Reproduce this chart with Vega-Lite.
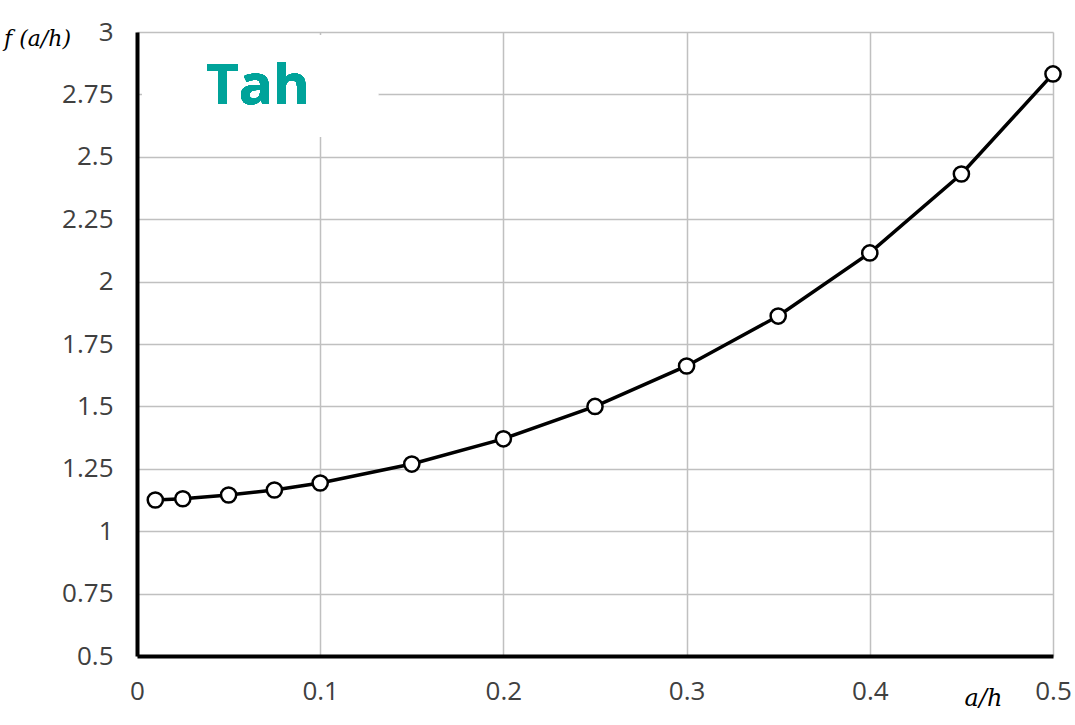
{
  "$schema": "https://vega.github.io/schema/vega-lite/v6.json",
  "autosize": "none",
  "width": 916,
  "height": 624,
  "padding": {"left": 137, "top": 32, "right": 22, "bottom": 69},
  "background": "white",
  "config": {
    "view": {"stroke": null},
    "axis": {
      "labelFont": "Open Sans",
      "labelFontSize": 26,
      "labelColor": "#404040",
      "gridColor": "#c0c0c0",
      "gridWidth": 1.5,
      "domainColor": "black",
      "domainWidth": 4,
      "ticks": false
    }
  },
  "data": {
    "values": [
      {"ah": 0.01, "f": 1.125},
      {"ah": 0.025, "f": 1.13},
      {"ah": 0.05, "f": 1.145},
      {"ah": 0.075, "f": 1.165},
      {"ah": 0.1, "f": 1.193},
      {"ah": 0.15, "f": 1.269},
      {"ah": 0.2, "f": 1.37},
      {"ah": 0.25, "f": 1.50},
      {"ah": 0.3, "f": 1.662},
      {"ah": 0.35, "f": 1.862},
      {"ah": 0.4, "f": 2.115},
      {"ah": 0.45, "f": 2.431},
      {"ah": 0.5, "f": 2.832}
    ]
  },
  "encoding": {
    "x": {
      "field": "ah",
      "type": "quantitative",
      "scale": {"domain": [0, 0.5], "nice": false, "zero": false},
      "axis": {
        "values": [0, 0.1, 0.2, 0.3, 0.4, 0.5],
        "format": ".3~g",
        "domainWidth": 4,
        "labelPadding": 22,
        "labelFlush": false,
        "title": "a/h",
        "titleFont": "DejaVu Serif",
        "titleFontStyle": "italic",
        "titleFontWeight": "normal",
        "titleFontSize": 24,
        "titleColor": "black",
        "titleX": 846,
        "titleY": 42,
        "titleAlign": "center",
        "titleBaseline": "middle"
      }
    },
    "y": {
      "field": "f",
      "type": "quantitative",
      "scale": {"domain": [0.5, 3], "nice": false, "zero": false},
      "axis": {
        "values": [0.5, 0.75, 1, 1.25, 1.5, 1.75, 2, 2.25, 2.5, 2.75, 3],
        "format": ".3~g",
        "domainWidth": 4,
        "labelPadding": 24,
        "labelFlush": false,
        "title": "f (a/h)",
        "titleFont": "DejaVu Serif",
        "titleFontStyle": "italic",
        "titleFontWeight": "normal",
        "titleFontSize": 22,
        "titleColor": "black",
        "titleAngle": 0,
        "titleX": -100,
        "titleY": 6,
        "titleAlign": "center",
        "titleBaseline": "middle"
      }
    }
  },
  "layer": [
    {
      "mark": {"type": "rect", "fill": "white", "stroke": null},
      "encoding": {
        "x": {"datum": 0.003},
        "x2": {"datum": 0.1316},
        "y": {"datum": 2.988},
        "y2": {"datum": 2.579}
      }
    },
    {
      "mark": {
        "type": "text",
        "text": "Tah",
        "font": "Open Sans",
        "fontWeight": "bold",
        "fontSize": 56,
        "color": "#00A39A",
        "align": "center",
        "baseline": "middle"
      },
      "encoding": {
        "x": {"datum": 0.066},
        "y": {"datum": 2.78}
      }
    },
    {
      "mark": {"type": "line", "color": "black", "strokeWidth": 3.5}
    },
    {
      "mark": {
        "type": "point",
        "shape": "circle",
        "filled": true,
        "fill": "white",
        "stroke": "black",
        "strokeWidth": 2.5,
        "size": 230,
        "opacity": 1
      }
    }
  ]
}
